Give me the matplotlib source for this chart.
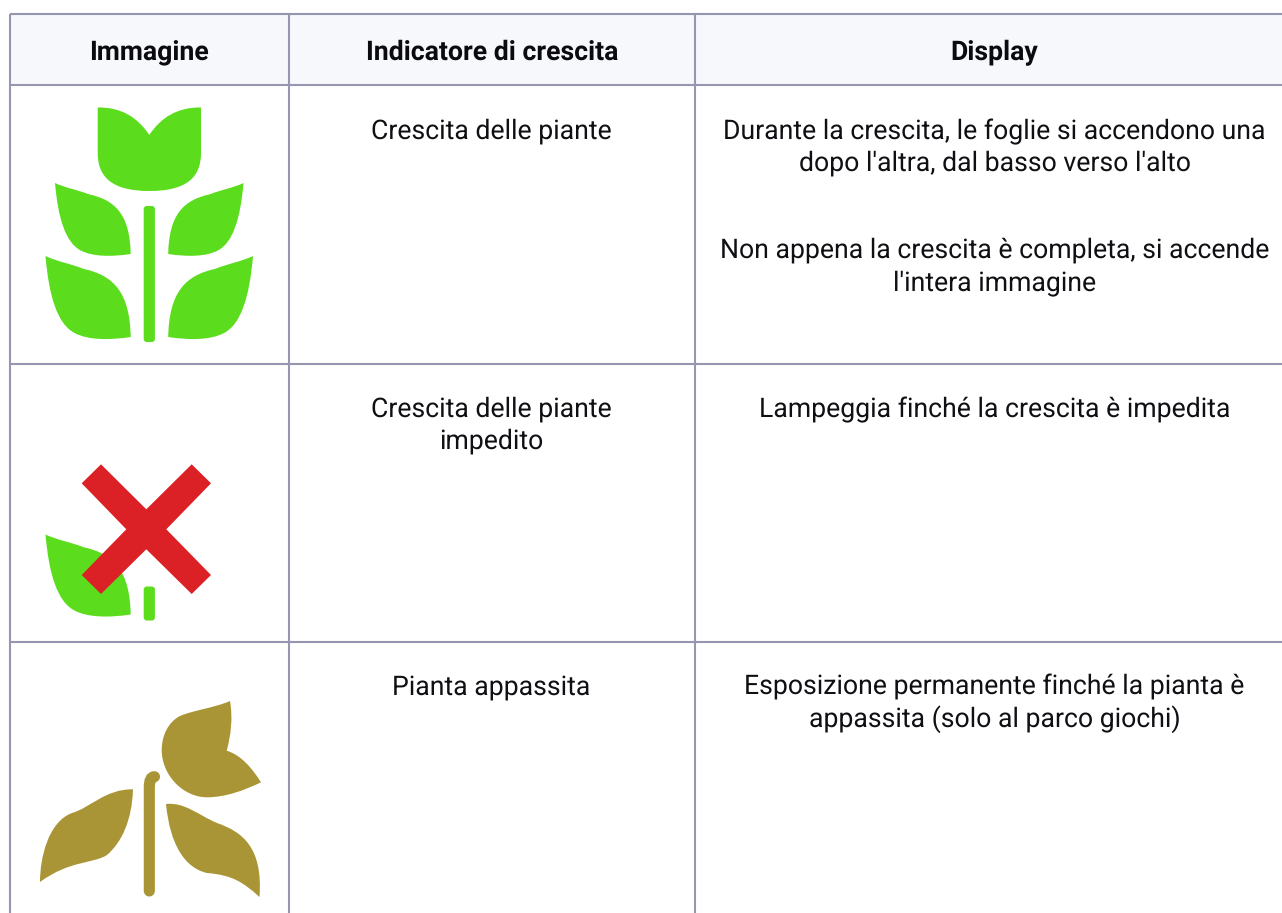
import matplotlib
matplotlib.use("Agg")
import matplotlib.pyplot as plt
from matplotlib.path import Path
from matplotlib.patches import PathPatch, Rectangle, FancyBboxPatch

plt.rcParams['font.family'] = ['Roboto', 'DejaVu Sans']
plt.rcParams['text.hinting'] = 'no_hinting'

# table layout, in pixels of the reference
col_edges = [10, 288.5, 695, 1290]
row_edges = [14, 85.5, 364, 642, 920]
headers = ["Immagine", "Indicatore di crescita", "Display"]
# (baseline y, text)
col2_text = [
    (139, "Crescita delle piante"),
    (417, "Crescita delle piante"),
    (449, "impedito"),
    (695, "Pianta appassita"),
]
col3_text = [
    (139, "Durante la crescita, le foglie si accendono una"),
    (171, "dopo l'altra, dal basso verso l'alto"),
    (258, "Non appena la crescita è completa, si accende"),
    (290, "l'intera immagine"),
    (417, "Lampeggia finché la crescita è impedita"),
    (695, "Esposizione permanente finché la pianta è"),
    (727, "appassita (solo al parco giochi)"),
]

GREEN = "#5BDD1E"
RED = "#DC2126"
BROWN = "#A99535"
LINE = "#9696B0"
HEAD_BG = "#F6F8FC"

M, C, L = Path.MOVETO, Path.CURVE4, Path.LINETO

# one leaf, tip at (0,0), foot at (1,1)
leaf_verts = [(0, 0), (0.14, 0.07), (0.28, 0.09), (0.45, 0.16),
              (0.80, 0.24), (0.99, 0.45), (1, 1),
              (0.75, 1.04), (0.50, 1.04), (0.34, 0.95),
              (0.14, 0.84), (0.04, 0.50), (0, 0)]
leaf_codes = [M] + [C] * 12

# leaves as (tip x, tip y, foot x, foot y)
full_leaves = [(55, 183, 130.7, 254), (243.5, 183, 168.2, 254),
               (45.5, 256, 130.7, 337), (253, 256, 168.2, 337)]
small_leaf = (45.5, 534.5, 130.7, 614.5)

tulip_verts = [(97.7, 107.5), (122, 107), (138, 118), (149.3, 135),
               (160.5, 118), (177, 107), (201, 107.5),
               (201, 125), (201, 140), (201, 153),
               (201, 177), (187, 191), (149.3, 191),
               (112, 191), (97.7, 177), (97.7, 153),
               (97.7, 140), (97.7, 125), (97.7, 107.5)]
tulip_codes = [M] + [C] * 18

cross_verts = [(101, 464.3), (146.3, 509.3), (191.7, 464.3), (211, 483.3),
               (166.3, 529.3), (211, 575), (191.7, 594), (146.3, 549.3),
               (101, 594), (81.7, 575), (126.3, 529.3), (81.7, 483.3),
               (101, 464.3)]

flower_verts = [(230, 701), (214, 708), (194, 710), (180, 716),
                (168, 722), (161.7, 736), (161.7, 750),
                (161.7, 775), (183, 797.3), (207, 797.3),
                (226, 797.3), (245, 790), (261, 782.3),
                (252, 768), (241, 755), (226.7, 750.7),
                (231, 735), (233, 718), (230, 701)]
flower_codes = [M] + [C] * 18

left_dead_verts = [(40, 882), (40, 858), (48, 822), (72, 813),
                   (90, 808), (105, 789), (133, 789.3),
                   (132, 820), (122, 842), (107, 855),
                   (93, 864), (70, 860), (40, 882)]
left_dead_codes = [M] + [C] * 12

right_dead_verts = [(166, 804), (185, 802), (198, 815), (217, 823),
                    (243, 832), (263, 848), (259.5, 897),
                    (243, 882), (232, 875), (207, 873),
                    (185, 868), (170, 845), (166, 804)]
right_dead_codes = [M] + [C] * 12

dead_stem = [(149.3, 891), (149.3, 788), (149.3, 780), (151, 777), (154.5, 776.7)]
dead_stem_codes = [M, L, C, C, C]


def draw_leaf(ax, tip_x, tip_y, foot_x, foot_y, color):
    verts = [(tip_x + x * (foot_x - tip_x), tip_y + y * (foot_y - tip_y)) for x, y in leaf_verts]
    ax.add_patch(PathPatch(Path(verts, leaf_codes), fc=color, ec="none"))


def draw_stem(ax, y0, y1, color):
    ax.add_patch(FancyBboxPatch((145.2, y0 + 1.5), 8.2, y1 - y0 - 3,
                                boxstyle="round,pad=1.5,rounding_size=3", fc=color, ec="none"))


fig = plt.figure(figsize=(12.82, 9.13), dpi=100)
ax = fig.add_axes([0, 0, 1, 1])
ax.set_xlim(0, 1282)
ax.set_ylim(913, 0)
ax.axis("off")

# header background
ax.add_patch(Rectangle((col_edges[0], row_edges[0]), col_edges[-1] - col_edges[0],
                       row_edges[1] - row_edges[0], fc=HEAD_BG, ec="none"))

# grid lines
for y in row_edges[:-1]:
    ax.plot([col_edges[0], 1282], [y, y], color=LINE, lw=1.5, solid_capstyle="butt")
for x in col_edges[:-1]:
    ax.plot([x, x], [row_edges[0], 913], color=LINE, lw=1.5, solid_capstyle="butt")

# texts
FS = 19.2
for i, h in enumerate(headers):
    ax.text((col_edges[i] + col_edges[i + 1]) / 2 if i < 2 else 994.5, 60, h, ha="center", va="baseline",
            fontsize=FS, fontweight="bold", color="#0B0B0F")
for y, s in col2_text:
    ax.text(491.5, y, s, ha="center", va="baseline", fontsize=FS, color="#0F0F14")
for y, s in col3_text:
    ax.text(994.5, y, s, ha="center", va="baseline", fontsize=FS, color="#0F0F14")

# row 1 icon
ax.add_patch(PathPatch(Path(tulip_verts, tulip_codes), fc=GREEN, ec="none"))
for leaf in full_leaves:
    draw_leaf(ax, *leaf, GREEN)
draw_stem(ax, 206, 342, GREEN)

# row 2 icon
draw_leaf(ax, *small_leaf, GREEN)
draw_stem(ax, 586.5, 620.5, GREEN)
ax.add_patch(plt.Polygon(cross_verts, closed=True, fc=RED, ec="none", zorder=3))

# row 3 icon
ax.add_patch(PathPatch(Path(flower_verts, flower_codes), fc=BROWN, ec="none"))
ax.add_patch(PathPatch(Path(left_dead_verts, left_dead_codes), fc=BROWN, ec="none"))
ax.add_patch(PathPatch(Path(right_dead_verts, right_dead_codes), fc=BROWN, ec="none"))
ax.add_patch(PathPatch(Path(dead_stem, dead_stem_codes), fc="none", ec=BROWN, lw=8, capstyle="round"))

fig.savefig("out.png", dpi=100)
